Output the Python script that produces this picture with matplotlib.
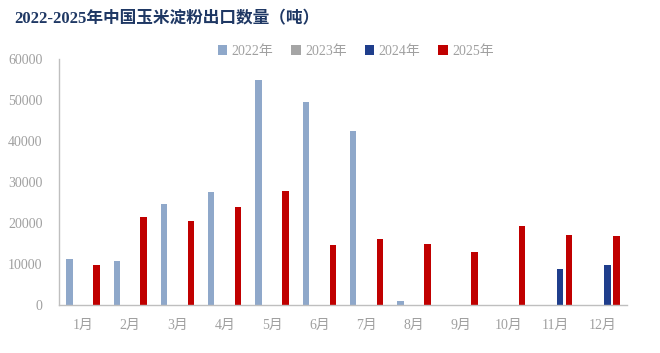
import matplotlib
matplotlib.use("Agg")
import matplotlib.pyplot as plt
import numpy as np

months = ["1月", "2月", "3月", "4月", "5月", "6月", "7月", "8月", "9月", "10月", "11月", "12月"]
series_names = ["2022年", "2023年", "2024年", "2025年"]
v2022 = [11200, 10700, 24500, 27500, 54900, 49500, 42400, 1000, 0, 0, 0, 0]
v2023 = [0, 0, 0, 0, 0, 0, 0, 0, 0, 0, 0, 0]
v2024 = [0, 0, 0, 0, 0, 0, 0, 0, 0, 0, 8700, 9600]
v2025 = [9600, 21400, 20500, 23800, 27800, 14500, 16000, 14900, 12900, 19300, 17100, 16800]
colors = ["#8FA8CA", "#A5A5A5", "#1F3E8C", "#C00000"]
yticks = [0, 10000, 20000, 30000, 40000, 50000, 60000]

serif = ["Liberation Serif", "Noto Sans CJK SC"]

fig = plt.figure(figsize=(6.6, 3.53), dpi=100)
ax = fig.add_axes([0.0898, 0.137, 0.8597, 0.696])

x = np.arange(len(months))
offsets = [-0.285, -0.095, 0.095, 0.285]
w = 0.135
for vals, off, c, name in zip([v2022, v2023, v2024, v2025], offsets, colors, series_names):
    ax.bar(x + off, vals, width=w, color=c, label=name, zorder=2)

ax.set_xlim(-0.5, len(months) - 0.5)
ax.set_ylim(0, 60000)
ax.set_yticks(yticks)
ax.set_yticklabels([str(t) for t in yticks], family=serif, fontsize=10, color="#A0A0A0")
ax.set_xticks(x)
ax.set_xticklabels(months, family=serif, fontsize=10, color="#A0A0A0")
ax.tick_params(axis="both", length=0)
ax.tick_params(axis="y", pad=12)
ax.tick_params(axis="x", pad=10)
for s in ["top", "right"]:
    ax.spines[s].set_visible(False)
for s in ["left", "bottom"]:
    ax.spines[s].set_color("#BFBFBF")
    ax.spines[s].set_linewidth(1.0)

leg = fig.legend(loc="center", bbox_to_anchor=(0.539, 0.855), ncol=4, frameon=False,
                 prop={"family": serif, "size": 10}, handlelength=0.7, handleheight=0.7,
                 handletextpad=0.3, columnspacing=1.3)
for t in leg.get_texts():
    t.set_color("#A0A0A0")

fig.text(0.022, 0.945, "2022-2025年中国玉米淀粉出口数量（吨）", family=serif, fontsize=12,
         fontweight="bold", color="#1F3864", va="center", ha="left")

fig.savefig("out.png", dpi=100)
